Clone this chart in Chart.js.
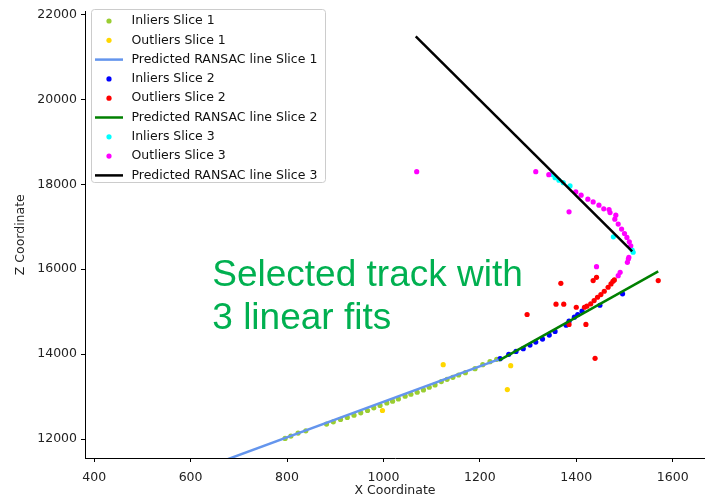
<!DOCTYPE html>
<html>
<head>
<meta charset="utf-8">
<title>RANSAC slices</title>
<script src="https://cdn.jsdelivr.net/npm/chart.js@4.4.1/dist/chart.umd.min.js"></script>
<style>
  body { margin: 0; background: #fff; }
  canvas { display: block; }
</style>
</head>
<body>
<canvas id="trackChart" width="705" height="498"></canvas>
<script>
// Slice 1
const inliers1X = [796, 808, 823, 839, 882, 896, 911, 925, 939, 953, 967, 980, 993, 1007, 1019, 1031, 1045, 1057, 1070, 1083, 1095, 1107, 1120, 1132, 1144, 1156, 1170, 1190, 1206, 1221, 1235];
const inliers1Z = [12016, 12070, 12141, 12195, 12352, 12407, 12462, 12509, 12563, 12618, 12673, 12735, 12790, 12852, 12892, 12946, 13009, 13056, 13103, 13157, 13220, 13274, 13354, 13408, 13455, 13509, 13564, 13658, 13752, 13823, 13878];
const outliers1X = [998, 1124, 1264, 1257];
const outliers1Z = [12673, 13752, 13729, 13166];
const line1X = [660, 1239];
const line1Z = [11455, 13878];

// Slice 2
const inliers2X = [1242, 1260, 1275, 1290, 1304, 1316, 1330, 1344, 1356, 1379, 1385, 1396, 1403, 1412, 1449, 1496];
const inliers2Z = [13894, 13995, 14065, 14128, 14213, 14284, 14354, 14448, 14535, 14683, 14777, 14870, 14934, 15011, 15152, 15420];
const outliers2X = [1298, 1358, 1374, 1368, 1400, 1417, 1422, 1420, 1385, 1439, 1430, 1437, 1444, 1451, 1458, 1466, 1472, 1476, 1479, 1435, 1442, 1570];
const outliers2Z = [14934, 15176, 15176, 15668, 15105, 15105, 15130, 14699, 14699, 13901, 15185, 15262, 15340, 15403, 15481, 15575, 15654, 15716, 15748, 15732, 15810, 15732];
const line2X = [1240, 1570];
const line2Z = [13854, 15950];

// Slice 3
const inliers3X = [1349, 1356, 1364, 1373, 1387, 1477, 1512, 1516, 1518];
const inliers3Z = [18230, 18156, 18095, 18039, 17961, 16764, 16520, 16452, 16400];
const outliers3X = [1069, 1316, 1343, 1399, 1410, 1424, 1435, 1447, 1457, 1468, 1470, 1482, 1480, 1487, 1494, 1500, 1505, 1510, 1513, 1385, 1442, 1509, 1506, 1508, 1491, 1487];
const outliers3Z = [18297, 18297, 18227, 17821, 17743, 17649, 17586, 17508, 17422, 17405, 17335, 17274, 17180, 17063, 16946, 16842, 16748, 16647, 16553, 17351, 16060, 16279, 16162, 16241, 15927, 15849];
const line3X = [1067, 1516];
const line3Z = [21482, 16420];

const xTicks = [400, 600, 800, 1000, 1200, 1400, 1600];
const zTicks = [12000, 14000, 16000, 18000, 20000, 22000];

const tickFont = { family: 'DejaVu Sans', size: 12.5 };

function pts(xs, zs) {
  return xs.map((x, i) => ({ x: x, y: zs[i] }));
}

// matplotlib puts lines (zorder 2) above scatter collections (zorder 1)
function scatterSet(label, xs, zs, color, order) {
  return {
    label: label, data: pts(xs, zs), showLine: false,
    pointRadius: 2.6, pointHoverRadius: 2.6, pointBorderWidth: 0,
    pointBackgroundColor: color, backgroundColor: color, borderColor: color,
    order: order
  };
}
function lineSet(label, xs, zs, color, order) {
  return {
    label: label, data: pts(xs, zs), showLine: true,
    pointRadius: 0, borderWidth: 2.5, borderColor: color, backgroundColor: color,
    order: order, isLine: true
  };
}

const datasets = [
  scatterSet('Inliers Slice 1', inliers1X, inliers1Z, '#9acd32', 8),
  scatterSet('Outliers Slice 1', outliers1X, outliers1Z, '#ffd700', 7),
  lineSet('Predicted RANSAC line Slice 1', line1X, line1Z, '#6495ed', 2),
  scatterSet('Inliers Slice 2', inliers2X, inliers2Z, '#0000ff', 6),
  scatterSet('Outliers Slice 2', outliers2X, outliers2Z, '#ff0000', 5),
  lineSet('Predicted RANSAC line Slice 2', line2X, line2Z, '#008000', 1),
  scatterSet('Inliers Slice 3', inliers3X, inliers3Z, '#00ffff', 4),
  scatterSet('Outliers Slice 3', outliers3X, outliers3Z, '#ff00ff', 3),
  lineSet('Predicted RANSAC line Slice 3', line3X, line3Z, '#000000', 0)
];

// annotation text + legend box in the upper left
const extras = {
  id: 'extras',
  afterDraw(chart) {
    const ctx = chart.ctx;
    const sx = chart.scales.x, sy = chart.scales.y;
    ctx.save();

    ctx.fillStyle = '#00b050';
    ctx.font = '37px "Liberation Sans", Arial, sans-serif';
    ctx.textAlign = 'left';
    ctx.textBaseline = 'alphabetic';
    ctx.fillText('Selected track with', sx.getPixelForValue(645), sy.getPixelForValue(15614));
    ctx.fillText('3 linear fits', sx.getPixelForValue(645), sy.getPixelForValue(14582));

    const bx = 91.5, by = 9.5, bw = 234, bh = 173, r = 3;
    ctx.beginPath();
    ctx.roundRect(bx, by, bw, bh, r);
    ctx.fillStyle = 'rgba(255,255,255,0.8)';
    ctx.fill();
    ctx.strokeStyle = '#cccccc';
    ctx.lineWidth = 1;
    ctx.stroke();

    ctx.font = '12.5px "DejaVu Sans", sans-serif';
    ctx.textBaseline = 'middle';
    chart.data.datasets.forEach((ds, i) => {
      const y = 21 + i * 19.3;
      if (ds.isLine) {
        ctx.strokeStyle = ds.borderColor;
        ctx.lineWidth = 2.5;
        ctx.beginPath();
        ctx.moveTo(95, y);
        ctx.lineTo(123, y);
        ctx.stroke();
      } else {
        ctx.fillStyle = ds.pointBackgroundColor;
        ctx.beginPath();
        ctx.arc(109, y, 2.6, 0, Math.PI * 2);
        ctx.fill();
      }
      ctx.fillStyle = '#111';
      ctx.fillText(ds.label, 131.5, y);
    });
    ctx.restore();
  }
};

const chart = new Chart(document.getElementById('trackChart'), {
  type: 'scatter',
  data: { datasets: datasets },
  options: {
    responsive: false,
    animation: false,
    events: [],
    layout: { padding: 0, autoPadding: false },
    plugins: {
      legend: { display: false },
      tooltip: { enabled: false }
    },
    scales: {
      x: {
        type: 'linear',
        min: 381,
        max: 1667,
        afterBuildTicks: s => { s.ticks = xTicks.map(v => ({ value: v })); },
        afterFit: s => { s.height = 40; },
        grid: { drawOnChartArea: false, color: '#000', tickLength: 4 },
        border: { color: '#000', width: 1 },
        ticks: { font: tickFont, color: '#222', padding: 8, maxRotation: 0, callback: v => String(v) },
        title: {
          display: true, text: 'X Coordinate', color: '#222',
          font: tickFont, padding: { top: 0, bottom: 0 }
        }
      },
      y: {
        type: 'linear',
        min: 11554,
        max: 22070,
        afterBuildTicks: s => { s.ticks = zTicks.map(v => ({ value: v })); },
        afterFit: s => { s.width = 85; },
        grid: { drawOnChartArea: false, color: '#000', tickLength: 4 },
        border: { color: '#000', width: 1 },
        ticks: { font: tickFont, color: '#222', padding: 4, callback: v => String(v) },
        title: {
          display: true, text: 'Z Coordinate', color: '#222',
          font: tickFont, padding: { top: 13, bottom: 0 }
        }
      }
    }
  },
  plugins: [extras]
});
</script>
</body>
</html>
